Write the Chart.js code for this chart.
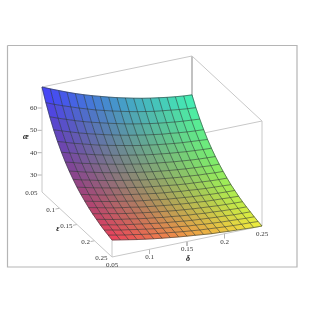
<!DOCTYPE html>
<html>
<head>
<meta charset="utf-8">
<title>Surface</title>
<script src="https://cdn.jsdelivr.net/npm/chart.js@4"></script>
<style>
body { margin: 0; background: #fff; }
canvas { display: block; filter: blur(0.35px); }
</style>
</head>
<body>
<canvas id="chart" width="314" height="314"></canvas>
<script>
let deltaTicks = [0.05, 0.1, 0.15, 0.2, 0.25];
let epsTicks = [0.05, 0.1, 0.15, 0.2, 0.25];
let zTicks = [30, 40, 50, 60];
let deltaGrid = [0.05, 0.0611, 0.0722, 0.0833, 0.0944, 0.1056, 0.1167, 0.1278, 0.1389, 0.15, 0.1611, 0.1722, 0.1833, 0.1944, 0.2056, 0.2167, 0.2278, 0.2389, 0.25];
let epsGrid = [0.05, 0.0611, 0.0722, 0.0833, 0.0944, 0.1056, 0.1167, 0.1278, 0.1389, 0.15, 0.1611, 0.1722, 0.1833, 0.1944, 0.2056, 0.2167, 0.2278, 0.2389, 0.25];
// one row per epsilon, one column per delta
let zGrid = [
    [69.4, 67.8, 66.3, 64.8, 63.4, 62.1, 60.9, 59.8, 58.7, 57.7, 56.8, 55.9, 55.1, 54.4, 53.8, 53.2, 52.7, 52.3, 52.0],
    [64.0, 62.5, 61.1, 59.8, 58.5, 57.3, 56.1, 55.1, 54.1, 53.2, 52.3, 51.5, 50.8, 50.1, 49.6, 49.1, 48.6, 48.2, 47.9],
    [59.3, 57.9, 56.6, 55.3, 54.1, 53.0, 52.0, 51.0, 50.1, 49.2, 48.4, 47.7, 47.0, 46.4, 45.9, 45.4, 45.0, 44.7, 44.4],
    [55.1, 53.8, 52.6, 51.4, 50.3, 49.3, 48.3, 47.4, 46.5, 45.7, 45.0, 44.3, 43.7, 43.1, 42.7, 42.2, 41.8, 41.5, 41.3],
    [51.5, 50.3, 49.1, 48.1, 47.0, 46.0, 45.1, 44.3, 43.5, 42.7, 42.0, 41.4, 40.8, 40.3, 39.8, 39.4, 39.1, 38.8, 38.5],
    [48.3, 47.2, 46.1, 45.1, 44.1, 43.2, 42.3, 41.5, 40.8, 40.1, 39.4, 38.8, 38.3, 37.8, 37.4, 37.0, 36.7, 36.4, 36.2],
    [45.5, 44.5, 43.4, 42.5, 41.6, 40.7, 39.9, 39.1, 38.4, 37.7, 37.1, 36.6, 36.1, 35.6, 35.2, 34.8, 34.5, 34.3, 34.1],
    [43.1, 42.1, 41.1, 40.2, 39.3, 38.5, 37.7, 37.0, 36.3, 35.7, 35.1, 34.6, 34.1, 33.7, 33.3, 33.0, 32.7, 32.4, 32.3],
    [41.0, 40.0, 39.1, 38.2, 37.4, 36.6, 35.9, 35.2, 34.5, 33.9, 33.4, 32.9, 32.4, 32.0, 31.7, 31.3, 31.1, 30.8, 30.7],
    [39.1, 38.2, 37.3, 36.5, 35.7, 34.9, 34.2, 33.6, 32.9, 32.4, 31.9, 31.4, 30.9, 30.5, 30.2, 29.9, 29.6, 29.4, 29.3],
    [37.5, 36.6, 35.7, 34.9, 34.2, 33.5, 32.8, 32.2, 31.6, 31.0, 30.5, 30.1, 29.6, 29.3, 28.9, 28.6, 28.4, 28.2, 28.0],
    [36.1, 35.2, 34.4, 33.6, 32.9, 32.2, 31.5, 30.9, 30.4, 29.8, 29.3, 28.9, 28.5, 28.1, 27.8, 27.5, 27.3, 27.1, 27.0],
    [34.8, 34.0, 33.2, 32.4, 31.7, 31.1, 30.4, 29.8, 29.3, 28.8, 28.3, 27.9, 27.5, 27.2, 26.8, 26.6, 26.4, 26.2, 26.0],
    [33.7, 32.9, 32.2, 31.4, 30.7, 30.1, 29.5, 28.9, 28.4, 27.9, 27.4, 27.0, 26.6, 26.3, 26.0, 25.7, 25.5, 25.3, 25.2],
    [32.8, 32.0, 31.2, 30.5, 29.9, 29.2, 28.6, 28.1, 27.5, 27.1, 26.6, 26.2, 25.9, 25.5, 25.3, 25.0, 24.8, 24.6, 24.5],
    [31.9, 31.2, 30.4, 29.7, 29.1, 28.5, 27.9, 27.3, 26.8, 26.4, 25.9, 25.5, 25.2, 24.9, 24.6, 24.4, 24.1, 24.0, 23.9],
    [31.2, 30.5, 29.7, 29.1, 28.4, 27.8, 27.2, 26.7, 26.2, 25.8, 25.3, 25.0, 24.6, 24.3, 24.0, 23.8, 23.6, 23.4, 23.3],
    [30.6, 29.8, 29.1, 28.5, 27.8, 27.2, 26.7, 26.2, 25.7, 25.2, 24.8, 24.4, 24.1, 23.8, 23.5, 23.3, 23.1, 23.0, 22.8],
    [30.0, 29.3, 28.6, 27.9, 27.3, 26.7, 26.2, 25.7, 25.2, 24.8, 24.4, 24.0, 23.6, 23.4, 23.1, 22.9, 22.7, 22.5, 22.4]
];

let zMin = 22.4;
let zMax = 69.4;
let dMin = 0.05;
let dMax = 0.25;
let eMin = 0.05;
let eMax = 0.25;

// box corner at (dMin, eMin, zMin) and how far each axis runs on the page
let view = { x0: 42, y0: 192, dx: 150, dy: -31, ex: 70, ey: 65, zy: -105 };

function project(d, e, z) {
    let u = (d - dMin) / (dMax - dMin);
    let v = (e - eMin) / (eMax - eMin);
    let w = (z - zMin) / (zMax - zMin);
    return {
        x: view.x0 + u * view.dx + v * view.ex,
        y: view.y0 + u * view.dy + v * view.ey + w * view.zy
    };
}

function edge(a, b, color, order) {
    return {
        data: [project(a[0], a[1], a[2]), project(b[0], b[1], b[2])],
        borderColor: color,
        borderWidth: 1,
        order: order
    };
}

function surfaceColor(i, j) {
    let u = (deltaGrid[j] - dMin) / (dMax - dMin);
    let v = (epsGrid[i] - eMin) / (eMax - eMin);
    let w = (zGrid[i][j] - zMin) / (zMax - zMin);
    let r = Math.round(70 + 175 * v);
    let g = Math.round(70 + 175 * u);
    let b = Math.round(60 + 185 * w);
    return 'rgb(' + r + ',' + g + ',' + b + ')';
}

let datasets = [];

// page frame
datasets.push({
    data: [{ x: 7.5, y: 45.5 }, { x: 297, y: 45.5 }, { x: 297, y: 267 }, { x: 7.5, y: 267 }, { x: 7.5, y: 45.5 }],
    borderColor: '#b5b5b5',
    borderWidth: 1.2,
    order: 5
});

// box edges behind the surface
let back = '#c8c8c8';
datasets.push(edge([dMin, eMin, zMax], [dMax, eMin, zMax], back, 4));
datasets.push(edge([dMax, eMin, zMax], [dMax, eMax, zMax], back, 4));
datasets.push(edge([dMax, eMax, zMax], [dMin, eMax, zMax], back, 4));
datasets.push(edge([dMax, eMin, zMin], [dMax, eMin, zMax], '#858585', 4));
datasets.push(edge([dMin, eMax, zMin], [dMin, eMax, zMax], back, 4));
datasets.push(edge([dMin, eMin, zMin], [dMin, eMin, zMax], back, 4));
datasets.push(edge([dMin, eMin, zMin], [dMin, eMax, zMin], back, 4));
datasets.push(edge([dMin, eMax, zMin], [dMax, eMax, zMin], back, 4));
datasets.push(edge([dMax, eMax, zMin], [dMax, eMax, zMax], back, 4));

// tick marks
zTicks.forEach((t) => {
    let p = project(dMin, eMin, t);
    datasets.push({ data: [p, { x: p.x - 4.5, y: p.y }], borderColor: '#b5b5b5', borderWidth: 1, order: 4 });
});
deltaTicks.slice(1, 4).forEach((t) => {
    let p = project(t, eMax, zMin);
    datasets.push({ data: [p, { x: p.x, y: p.y + 4.5 }], borderColor: '#b5b5b5', borderWidth: 1, order: 4 });
});
epsTicks.slice(1, 4).forEach((t) => {
    let p = project(dMin, t, zMin);
    datasets.push({ data: [p, { x: p.x - 4, y: p.y + 0.8 }], borderColor: '#b5b5b5', borderWidth: 1, order: 4 });
});

// all the vertices, the fill is painted from here by the plugin below
let vertices = [];
zGrid.forEach((row, i) => {
    row.forEach((z, j) => {
        vertices.push(project(deltaGrid[j], epsGrid[i], z));
    });
});
datasets.push({ surface: true, data: vertices, borderWidth: 0, showLine: false, order: 3 });

// mesh lines
let meshColor = 'rgba(40,50,50,0.7)';
zGrid.forEach((row, i) => {
    datasets.push({
        data: row.map((z, j) => project(deltaGrid[j], epsGrid[i], z)),
        borderColor: meshColor,
        borderWidth: 0.8,
        order: 2
    });
});
deltaGrid.forEach((d, j) => {
    datasets.push({
        data: epsGrid.map((e, i) => project(d, e, zGrid[i][j])),
        borderColor: meshColor,
        borderWidth: 0.8,
        order: 2
    });
});

let surfacePlugin = {
    id: 'surface',
    beforeDatasetDraw(chart, args) {
        if (!chart.data.datasets[args.index].surface) {
            return;
        }
        let ctx = chart.ctx;
        let xs = chart.scales.x;
        let ys = chart.scales.y;
        let px = (i, j) => {
            let p = project(deltaGrid[j], epsGrid[i], zGrid[i][j]);
            return [xs.getPixelForValue(p.x), ys.getPixelForValue(p.y)];
        };
        ctx.save();
        ctx.lineWidth = 0.6;
        for (let i = 0; i < epsGrid.length - 1; i++) {
            for (let j = 0; j < deltaGrid.length - 1; j++) {
                let color = surfaceColor(i, j);
                let corners = [px(i, j), px(i, j + 1), px(i + 1, j + 1), px(i + 1, j)];
                ctx.fillStyle = color;
                ctx.strokeStyle = color;
                ctx.beginPath();
                ctx.moveTo(corners[0][0], corners[0][1]);
                corners.slice(1).forEach((c) => ctx.lineTo(c[0], c[1]));
                ctx.closePath();
                ctx.fill();
                ctx.stroke();
            }
        }
        ctx.restore();
    }
};

let labelPlugin = {
    id: 'labels',
    afterDatasetsDraw(chart) {
        let ctx = chart.ctx;
        let xs = chart.scales.x;
        let ys = chart.scales.y;
        let put = (text, x, y, align) => {
            ctx.textAlign = align;
            ctx.fillText(text, xs.getPixelForValue(x), ys.getPixelForValue(y));
        };
        ctx.save();
        ctx.fillStyle = '#333';
        ctx.textBaseline = 'middle';
        ctx.font = '7px "Liberation Serif"';
        zTicks.forEach((t) => {
            let p = project(dMin, eMin, t);
            put(String(t), p.x - 5, p.y, 'right');
        });
        deltaTicks.forEach((t) => {
            let p = project(t, eMax, zMin);
            put(String(t), p.x, p.y + 8, 'center');
        });
        epsTicks.forEach((t) => {
            let p = project(dMin, t, zMin);
            put(String(t), p.x - 4.5, p.y + 1.5, 'right');
        });
        ctx.fillStyle = '#111';
        ctx.font = 'italic bold 8px "Liberation Serif"';
        put('æ', 26, 137, 'center');
        put('ε', 58, 229, 'center');
        put('δ', 188, 259, 'center');
        ctx.restore();
    }
};

new Chart(document.getElementById('chart').getContext('2d'), {
    type: 'scatter',
    data: { datasets: datasets },
    options: {
        responsive: false,
        animation: false,
        showLine: true,
        layout: { padding: 0 },
        elements: { point: { radius: 0 }, line: { tension: 0, fill: false } },
        plugins: { legend: { display: false }, tooltip: { enabled: false } },
        scales: {
            x: { type: 'linear', min: 0, max: 314, display: false },
            y: { type: 'linear', min: 0, max: 314, reverse: true, display: false }
        }
    },
    plugins: [surfacePlugin, labelPlugin]
});
</script>
</body>
</html>
